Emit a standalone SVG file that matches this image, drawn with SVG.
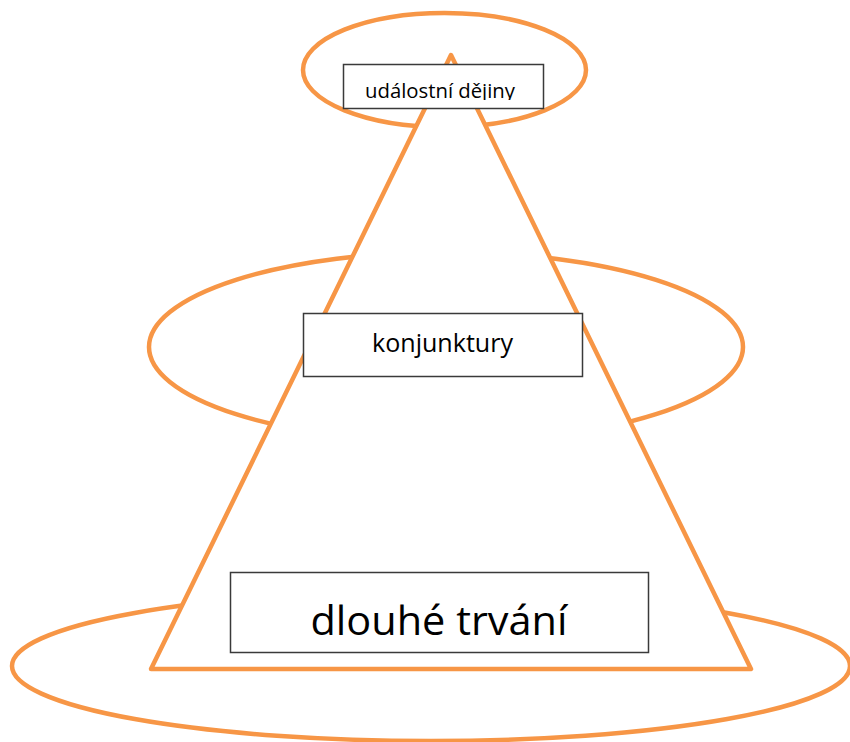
<svg xmlns="http://www.w3.org/2000/svg" width="850" height="742" viewBox="0 0 850 742">
<style>
.ring{fill:none;stroke:#F79646;stroke-width:4.5}
.tri{fill:#fff;stroke:#F79646;stroke-width:4.5;stroke-linejoin:round}
.box{fill:#fff;stroke:#3a3a3a;stroke-width:1.5}
.lbl{font-family:"Open Sans","Liberation Sans",sans-serif;fill:#000;text-anchor:middle}
</style>
<defs>
<clipPath id="clipTop"><rect x="344" y="65" width="199" height="35"/></clipPath>
</defs>
<rect width="850" height="742" fill="#fff"/>
<g id="rings">
<ellipse class="ring" cx="444.5" cy="70" rx="141.5" ry="57"/>
<ellipse class="ring" cx="446" cy="347" rx="297" ry="95"/>
<ellipse class="ring" cx="431" cy="666" rx="419" ry="75"/>
</g>
<g id="pyramid">
<polygon class="tri" points="451,55 751,669 151,669"/>
</g>
<g id="node-udalostni">
<rect class="box" x="343.5" y="64.5" width="200" height="44"/>
<text class="lbl" x="440" y="98" font-size="20" textLength="150" lengthAdjust="spacingAndGlyphs" clip-path="url(#clipTop)">událostní dějiny</text>
</g>
<g id="node-konjunktury">
<rect class="box" x="303.5" y="313.5" width="279" height="63"/>
<text class="lbl" x="442.5" y="352" font-size="25" textLength="141" lengthAdjust="spacingAndGlyphs">konjunktury</text>
</g>
<g id="node-dlouhe">
<rect class="box" x="230.5" y="572.5" width="418" height="80"/>
<text class="lbl" x="439" y="635" font-size="40" textLength="257" lengthAdjust="spacingAndGlyphs">dlouhé trvání</text>
</g>
</svg>
